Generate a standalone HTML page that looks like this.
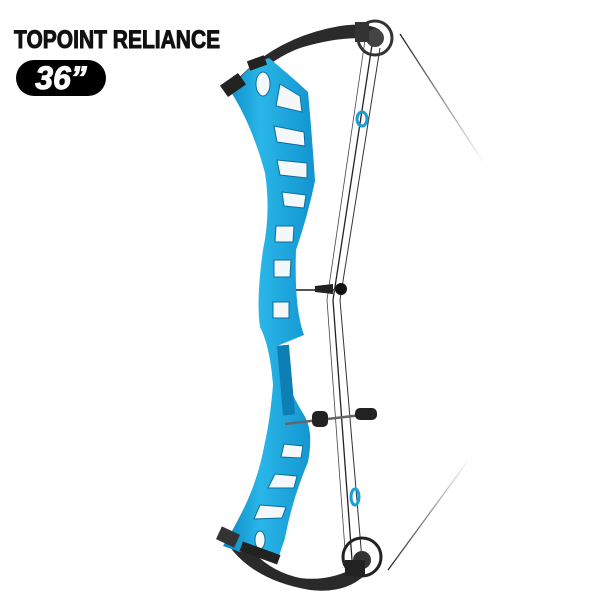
<!DOCTYPE html>
<html><head><style>
html,body{margin:0;padding:0;background:#fff}
body{width:600px;height:600px;position:relative;overflow:hidden;font-family:"Liberation Sans",sans-serif}
.t{position:absolute;left:14px;top:26px;font-weight:bold;font-size:25px;color:#111;transform:scaleX(0.84);transform-origin:left top;white-space:nowrap;-webkit-text-stroke:1px #111}
.p{position:absolute;left:16px;top:60px;width:90px;height:36px;background:#000;border-radius:18px;color:#fff;font-weight:bold;font-style:italic;font-size:32px;line-height:36px;text-align:center;-webkit-text-stroke:1px #fff}
svg{position:absolute;left:0;top:0}
</style></head><body>
<div class="t">TOPOINT RELIANCE</div>
<div class="p">36”</div>
<svg width="600" height="600" viewBox="0 0 600 600">
<defs>
<linearGradient id="fade1" x1="0" y1="0" x2="1" y2="1"><stop offset="0" stop-color="#222"/><stop offset="1" stop-color="#222" stop-opacity="0"/></linearGradient>
<linearGradient id="fade2" x1="0" y1="1" x2="1" y2="0"><stop offset="0" stop-color="#222"/><stop offset="1" stop-color="#222" stop-opacity="0"/></linearGradient>
<linearGradient id="blue" x1="0" y1="0" x2="1" y2="0"><stop offset="0" stop-color="#0b86c2"/><stop offset="0.4" stop-color="#29b6e8"/><stop offset="1" stop-color="#1294cf"/></linearGradient>
</defs>
<path d="M400 34 L485 165" stroke="url(#fade1)" stroke-width="1.3" fill="none"/>
<path d="M388 570 L470 458" stroke="url(#fade2)" stroke-width="1.3" fill="none"/>
<path d="M372 45 L333 300 L352 560" stroke="#222" stroke-width="1.3" fill="none"/>
<path d="M380 48 L340 300 L362 560" stroke="#333" stroke-width="1" fill="none"/>
<path d="M365 40 L327 300 L345 550" stroke="#444" stroke-width="0.8" fill="none"/>
<path d="M228 90 Q270 38 340 26 Q368 22 380 30 L378 40 Q345 34 300 48 Q262 62 240 98 Z" fill="#2a2a2a"/>
<path d="M225 540 Q250 580 310 590 Q345 594 365 575 L358 566 Q330 582 300 578 Q262 570 240 535 Z" fill="#2a2a2a"/>
<path d="M231 92 Q252 125 265 173 Q271 212 263 250 Q256 300 260 327 Q270 346 273 385 Q270 420 265 442 Q258 481 242 512 Q232 532 223 546 L240 552 Q262 545 277 562 L285 538 Q292 500 308 462 Q314 431 304 415 Q285 385 277 346 L304 335 Q294 308 296 250 Q308 215 315 181 Q312 135 308 92 Q292 77 269 58 Q245 65 231 92 Z" fill="url(#blue)"/>
<g fill="#f4f8fa" stroke="#0a6e9e" stroke-width="1">
<ellipse cx="263" cy="84" rx="7" ry="12"/>
<path d="M280 84 L300 96 L302 112 L276 106 Z"/>
<path d="M274 126 L304 132 L305 146 L277 142 Z"/>
<path d="M277 160 L307 163 L307 178 L280 175 Z"/>
<path d="M282 192 L306 195 L304 208 L284 206 Z"/>
<path d="M276 226 L294 226 L293 242 L275 242 Z"/>
<path d="M274 260 L291 260 L290 277 L274 277 Z"/>
<path d="M273 302 L289 302 L289 318 L273 318 Z"/>
<path d="M284 444 L303 446 L301 458 L281 457 Z"/>
<path d="M275 474 L297 476 L294 488 L268 488 Z"/>
<path d="M260 505 L286 507 L282 518 L254 519 Z"/>
<ellipse cx="260" cy="540" rx="5" ry="9"/>
</g>
<rect x="280" y="345" width="12" height="70" fill="#0d7fb5" transform="rotate(-5 287 380)"/>
<circle cx="375" cy="38" r="17" fill="none" stroke="#333" stroke-width="3"/>
<circle cx="375" cy="38" r="9" fill="#444"/>
<rect x="355" y="22" width="14" height="20" fill="#333"/>
<circle cx="362" cy="557" r="19" fill="none" stroke="#222" stroke-width="3"/>
<circle cx="362" cy="560" r="9" fill="#333"/>
<rect x="345" y="560" width="20" height="16" fill="#222"/>
<rect x="222" y="78" width="22" height="14" fill="#222" transform="rotate(-35 233 85)"/>
<rect x="248" y="58" width="18" height="10" fill="#222" transform="rotate(-20 257 63)"/>
<rect x="218" y="530" width="20" height="14" fill="#333" transform="rotate(25 228 537)"/>
<rect x="240" y="548" width="40" height="10" fill="#222" transform="rotate(20 260 553)"/>
<line x1="296" y1="290" x2="340" y2="290" stroke="#555" stroke-width="2"/>
<circle cx="341" cy="289" r="6" fill="#111"/>
<path d="M315 286 L333 284 L333 294 L315 292 Z" fill="#222"/>
<line x1="285" y1="424" x2="370" y2="414" stroke="#666" stroke-width="2.5"/>
<rect x="312" y="411" width="16" height="16" rx="5" fill="#222"/>
<rect x="355" y="408" width="22" height="12" rx="5" fill="#222"/>
<ellipse cx="362" cy="119" rx="5" ry="7" fill="none" stroke="#1a9ed6" stroke-width="3"/>
<ellipse cx="355" cy="497" rx="4" ry="8" fill="none" stroke="#1a9ed6" stroke-width="3"/>
</svg>
</body></html>
